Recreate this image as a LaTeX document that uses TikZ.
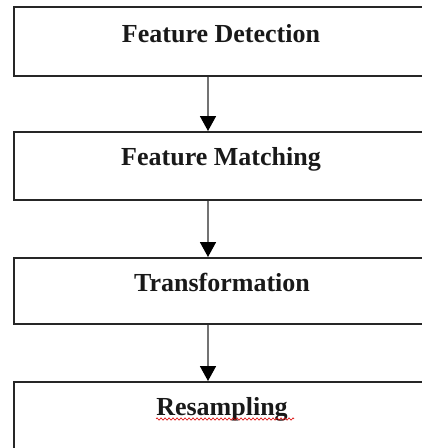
\documentclass[tikz,border=0pt]{standalone}
\usepackage{fontspec}
\setmainfont{Liberation Serif}
\usetikzlibrary{arrows.meta,decorations.pathmorphing}
\begin{document}
\begin{tikzpicture}[x=1pt,y=1pt,
  stagebox/.style={draw=black!85,line width=1.6pt,minimum width=420pt,inner sep=0pt,anchor=north west},
  stagetext/.style={anchor=base,inner sep=0pt,text=black!90,font=\fontsize{26}{29}\selectfont\bfseries},
  flow/.style={draw=black!55,line width=1.7pt,-{Triangle[length=15pt,width=16pt,fill=black,color=black]}}]
  \useasboundingbox (0,0) rectangle (422,-448);
  \clip (0,0) rectangle (422,-448);
  % stage boxes (their right edges run past the page)
  \node[stagebox,minimum height=69pt] (b1) at (13,-6) {};
  \node[stagebox,minimum height=68pt] (b2) at (13,-131) {};
  \node[stagebox,minimum height=66pt] (b3) at (13,-257) {};
  \node[stagebox,minimum height=80pt] (b4) at (13,-381) {};
  % stage titles
  \node[stagetext] (t1) at (221,-42) {Feature Detection};
  \node[stagetext] (t2) at (221,-165) {Feature Matching};
  \node[stagetext] (t3) at (222,-291) {Transformation};
  \node[stagetext] (t4) at (222,-415) {Resampling};
  % spell-check squiggle under the last title
  \draw[red!85!black,line width=0.6pt,decoration={zigzag,amplitude=1.2pt,segment length=4pt},decorate]
    ([yshift=-4pt]t4.base west) -- ++(138,0);
  % connectors on the flow axis
  \coordinate (ax) at (208,0);
  \draw[flow] (b1.south -| ax) -- (b2.north -| ax);
  \draw[flow] (b2.south -| ax) -- (b3.north -| ax);
  \draw[flow] (b3.south -| ax) -- (b4.north -| ax);
\end{tikzpicture}
\end{document}
